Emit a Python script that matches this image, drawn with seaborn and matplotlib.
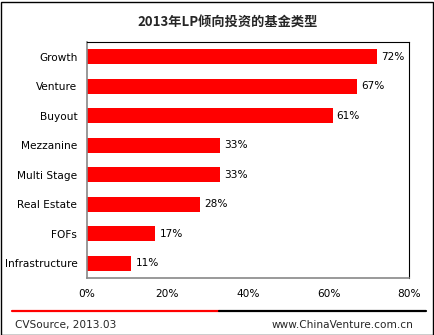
import matplotlib
matplotlib.use("Agg")
import matplotlib.pyplot as plt
import seaborn as sns
import pandas as pd
from matplotlib.lines import Line2D
from matplotlib.patches import Rectangle

categories = ["Growth", "Venture", "Buyout", "Mezzanine", "Multi Stage",
              "Real Estate", "FOFs", "Infrastructure"]
values = [72, 67, 61, 33, 33, 28, 17, 11]
xticks = [0, 20, 40, 60, 80]
xtick_labels = ["0%", "20%", "40%", "60%", "80%"]
title = "2013年LP倾向投资的基金类型"
source = "CVSource, 2013.03"
site = "www.ChinaVenture.com.cn"

sns.set_theme(style="white")
plt.rcParams['font.family'] = ['DejaVu Sans', 'Noto Sans CJK SC']

df = pd.DataFrame({"cat": categories, "val": values})
fs = 7.6

fig = plt.figure(figsize=(4.35, 3.35), dpi=100)
ax = fig.add_axes([87/435, 57/335, 322/435, 236/335])
sns.barplot(data=df, x="val", y="cat", orient="h", color="#ff0000",
            width=0.5, ax=ax, saturation=1, edgecolor="none")
ax.set_xlim(0, 80)
ax.set_ylim(7.5, -0.5)
ax.set_xticks(xticks)
ax.set_xticklabels(xtick_labels, fontsize=fs, color="black")
ax.tick_params(axis="y", labelsize=fs, length=0, pad=7, colors="black")
ax.tick_params(axis="x", length=0, pad=8, colors="black")
ax.set_xlabel("")
ax.set_ylabel("")
for s in ["top", "right"]:
    ax.spines[s].set_color("black")
    ax.spines[s].set_linewidth(0.8)
for s in ["left", "bottom"]:
    ax.spines[s].set_color("#888888")
    ax.spines[s].set_linewidth(1.2)

for i, v in enumerate(values):
    ax.annotate(f"{v}%", xy=(v, i), xytext=(3, 0), textcoords="offset points",
                va="center", ha="left", fontsize=fs, color="black")

fig.text(228/435, 1 - 22/335, title, ha="center", va="center",
         fontsize=9.5, fontweight="bold", family=['Noto Sans CJK SC', 'DejaVu Sans'])

y_line = 1 - 311/335
fig.add_artist(Line2D([12/435, 219/435], [y_line, y_line], color="#ff0000",
                      linewidth=1.6, transform=fig.transFigure))
fig.add_artist(Line2D([219/435, 426/435], [y_line, y_line], color="black",
                      linewidth=1.6, transform=fig.transFigure))
fig.text(15/435, 1 - 325/335, source, ha="left", va="center", fontsize=fs)
fig.text(413/435, 1 - 325/335, site, ha="right", va="center", fontsize=fs)

fig.add_artist(Rectangle((0.5/435, 0.5/335), 433/435, 333/335, fill=False,
                         edgecolor="black", linewidth=1, transform=fig.transFigure))

fig.savefig("out.png", dpi=100)
